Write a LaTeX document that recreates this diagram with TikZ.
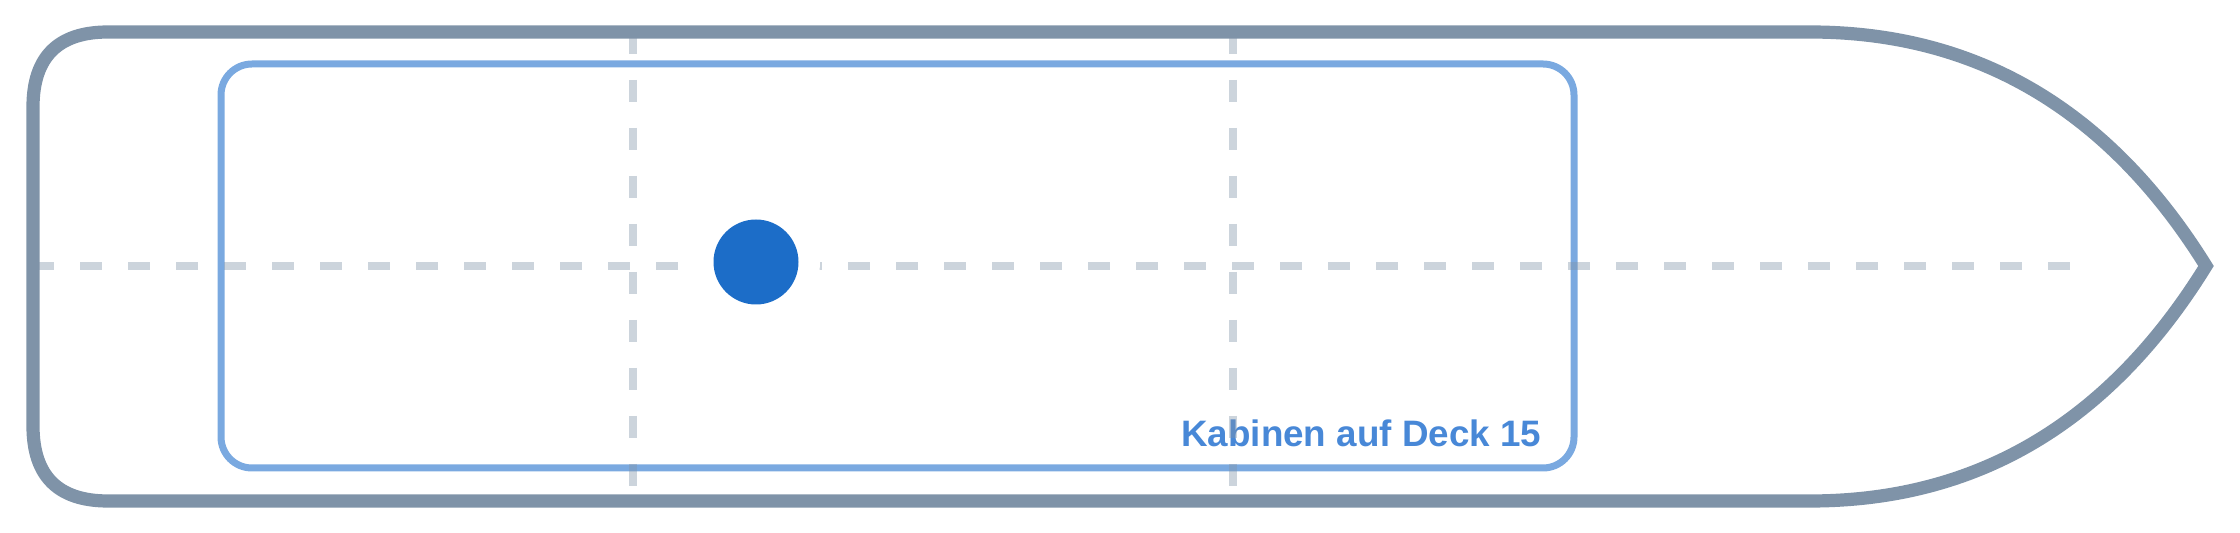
\documentclass[tikz,border=0pt]{standalone}
\usepackage{fontspec}
\setmainfont{Liberation Sans}
\usepackage{xcolor}
\definecolor{hullgray}{HTML}{7F93A8}
\definecolor{cabinblue}{HTML}{7AA9E0}
\definecolor{spotblue}{HTML}{1C6DC8}
\definecolor{labelblue}{HTML}{4888D7}

\begin{document}
\begin{tikzpicture}[x=0.25pt,y=-0.25pt,
  hull/.style={draw=hullgray,line width=3.3pt},
  cabins/.style={draw=cabinblue,line width=1.75pt,rounded corners=7.75pt},
  axis/.style={draw=hullgray,draw opacity=0.4,line width=2.1pt,dash pattern=on 5.5pt off 6.5pt},
  spot/.style={circle,fill=spotblue,inner sep=0pt,minimum size=21.25pt},
  decklabel/.style={text=labelblue,font=\bfseries\fontsize{9.2}{11}\selectfont,inner sep=0pt}]
  \useasboundingbox (0,0) rectangle (2240,533);
  \coordinate (bow) at (2206,266);
  \coordinate (aft) at (32,266);
  \coordinate (fore) at (2078,266);
  \coordinate (f1top) at (633,32);
  \coordinate (f1bot) at (633,501);
  \coordinate (f2top) at (1233,32);
  \coordinate (f2bot) at (1233,501);

  \draw[cabins] (221,64) rectangle (1574,468);
  \node[decklabel,anchor=base east] (deck) at (1542,447) {Kabinen auf Deck 15};

  \draw[axis] (aft) -- (fore);
  \draw[axis] (f1top) -- (f1bot);
  \draw[axis] (f2top) -- (f2bot);

  \fill[white] (756,262) circle (16pt);
  \node[spot] (pos) at (756,262) {};

  % hull outline, bow to the right
  \draw[hull] (1000,32) -- (108,32) .. controls (58,32) and (33,57) .. (33,107)
    -- (33,426) .. controls (33,476) and (58,501) .. (108,501) -- (1810,501)
    .. controls (1977,501) and (2109,423) .. (bow)
    .. controls (2109,110) and (1977,32) .. (1810,32) -- cycle;
\end{tikzpicture}
\end{document}
